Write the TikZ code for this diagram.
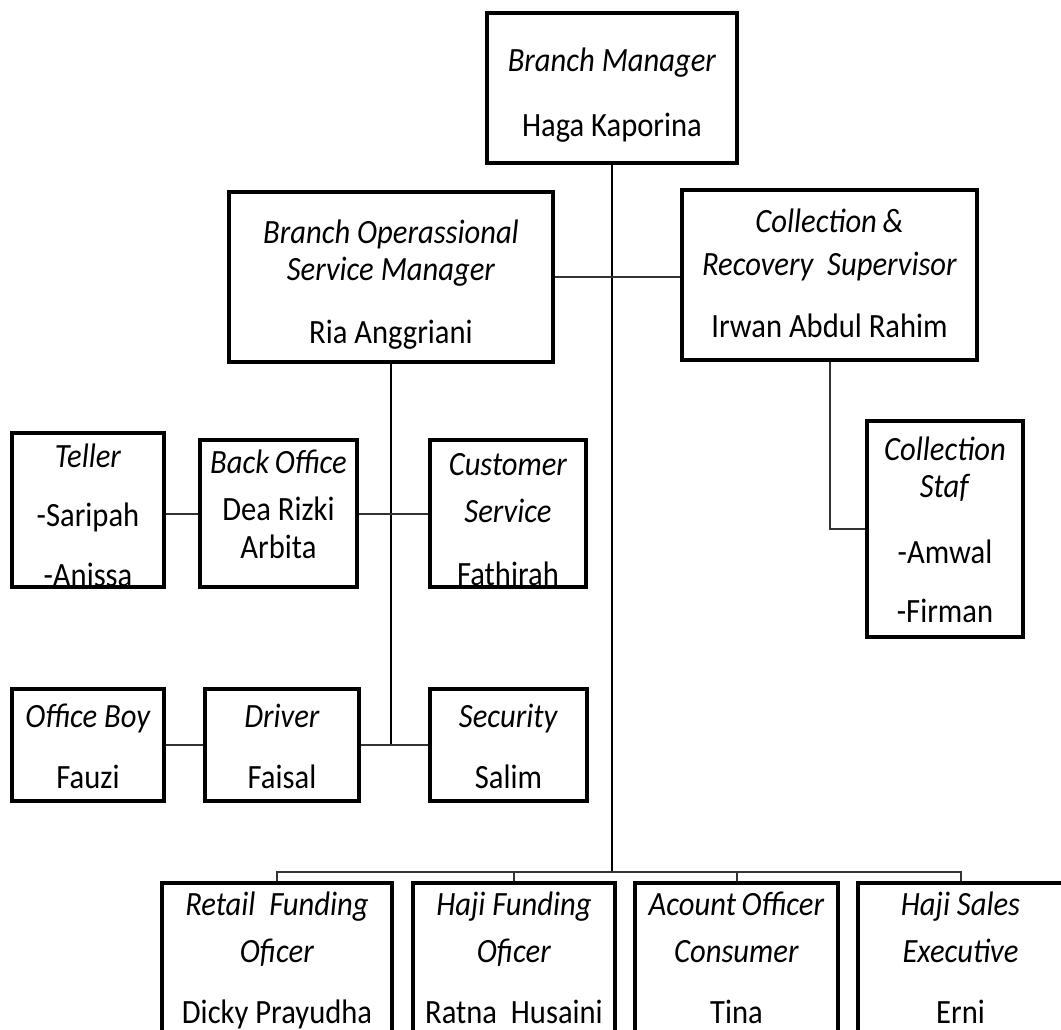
\documentclass[tikz,border=0pt]{standalone}
\usepackage{fontspec}
\setmainfont[FakeStretch=0.9]{Carlito}
\usetikzlibrary{positioning}

\tikzset{
  post/.style={draw, rectangle, line width=3.5pt, inner sep=0pt, align=center,
    font=\fontsize{34}{38}\selectfont, text depth=0pt},
  link/.style={line width=2pt, draw=black!80},
}

\begin{document}
\begin{tikzpicture}[x=1pt, y=-1pt]
			\useasboundingbox (0,0) rectangle (1061,1030);
			\clip (0,0) rectangle (1061,1030);
			% --- Top ---
			\node [post, minimum width=250, minimum height=150, text height=98pt] (BranchManager) at (612,88)
				{\textit{Branch Manager} \\[27pt] Haga Kaporina};
			\node [post, minimum width=324, minimum height=170, text height=132pt] (OperationalManager) at (391,277)
				{\textit{Branch Operassional} \\[-1pt] \textit{Service Manager} \\[25pt] Ria Anggriani};
			\node [post, minimum width=295, minimum height=170, text height=124pt] (CollectionSupervisor) at (829.5,275)
				{\textit{Collection\,\&} \\[5pt] \textit{Recovery\ \ Supervisor} \\[24pt] Irwan Abdul Rahim};

			% --- Operational staff ---
			\node [post, minimum width=152, minimum height=154, text height=153pt] (Teller) at (88,510)
				{\textit{Teller} \\[21pt] -Saripah \\[22pt] -Anissa};
			\node [post, minimum width=157, minimum height=147, text height=89pt] (BackOffice) at (278.5,513.5)
				{\textit{Back\,Office} \\[9pt] Dea Rizki \\ Arbita};
			\node [post, minimum width=156, minimum height=147, text height=143pt] (CustomerService) at (508,513.5)
				{\textit{Customer} \\[9pt] \textit{Service} \\[25pt] Fathirah};
			\node [post, minimum width=152, minimum height=112, text height=86pt] (OfficeBoy) at (88,745)
				{\textit{Office Boy} \\[23pt] Fauzi};
			\node [post, minimum width=154, minimum height=112, text height=86pt] (Driver) at (282,745)
				{\textit{Driver} \\[23pt] Faisal};
			\node [post, minimum width=157, minimum height=112, text height=86pt] (Security) at (508.5,745)
				{\textit{Security} \\[23pt] Salim};

			% --- Collection staff ---
			\node [post, minimum width=156, minimum height=216, text height=186pt] (CollectionStaf) at (945,529)
				{\textit{Collection} \\[-1pt] \textit{Staf} \\[28pt] -Amwal \\[21pt] -Firman};

			% --- Bottom row ---
			\node [post, minimum width=230, minimum height=158, text height=122pt] (RetailFunding) at (277,962)
				{\textit{Retail\ \ Funding} \\[9pt] \textit{Oficer} \\[23pt] Dicky Prayudha};
			\node [post, minimum width=202, minimum height=158, text height=122pt] (HajiFunding) at (514,962)
				{\textit{Haji Funding} \\[9pt] \textit{Oficer} \\[23pt] Ratna\ \ Husaini};
			\node [post, minimum width=203, minimum height=158, text height=122pt] (AccountOfficer) at (736.5,962)
				{\textit{Acount\,Officer} \\[9pt] \textit{Consumer} \\[23pt] Tina};
			\node [post, minimum width=205, minimum height=158, text height=122pt] (HajiSales) at (960.5,962)
				{\textit{Haji Sales} \\[9pt] \textit{Executive} \\[23pt] Erni};

			% Connectors
			\coordinate (bus) at (612,872);
			\draw [link, draw=black] (BranchManager.south) -- (bus);
			\draw [link] (OperationalManager.east) -- (OperationalManager.east -| CollectionSupervisor.west);
			\draw [link, draw=black] (OperationalManager.south) |- (Driver.east);
			\draw [link] (Driver.east) -- (Security.west);
			\draw [link] (BackOffice.east) -- (CustomerService.west);
			\draw [link] (BackOffice.west) -- (BackOffice.west -| Teller.east);
			\draw [link] (Driver.west) -- (Driver.west -| OfficeBoy.east);
			\draw [link] (CollectionSupervisor.south) |- (CollectionStaf.west);
			\draw [link] (RetailFunding.north) |- (bus) -| (HajiSales.north);
			\draw [link] (HajiFunding.north) -- (HajiFunding.north |- bus);
			\draw [link] (AccountOfficer.north) -- (AccountOfficer.north |- bus);
		\end{tikzpicture}
\end{document}
